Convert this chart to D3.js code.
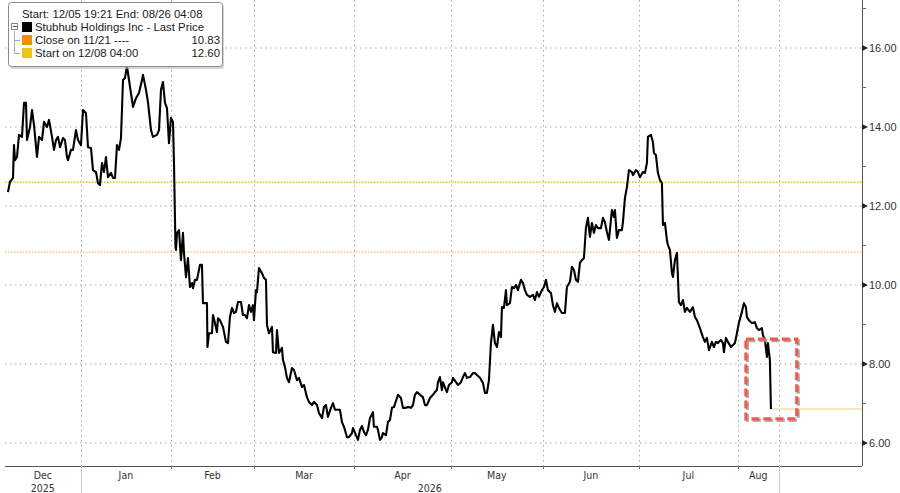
<!DOCTYPE html>
<html><head><meta charset="utf-8">
<script src="https://cdn.jsdelivr.net/npm/d3@7"></script>
<style>
html,body{margin:0;padding:0;background:#fff;}
svg{display:block;}
</style></head>
<body>
<svg id="c" width="900" height="493"></svg>
<script>
// ---- data (x = trading-day offset from chart start, y = price USD) ----
const tradingDay = [0,0.44,1.11,1.33,1.56,2.0,2.44,3.11,3.56,4.0,4.22,4.89,5.33,5.78,6.44,6.89,7.56,8.0,8.67,9.11,9.78,10.22,10.67,11.11,11.56,12.22,12.67,13.11,13.33,14.0,14.44,15.11,15.56,16.22,16.67,17.33,17.78,18.44,18.89,19.56,20.0,20.44,20.89,21.33,21.78,22.22,22.89,23.33,23.78,24.22,24.67,25.11,25.56,26.0,26.44,26.89,27.78,28.44,29.11,29.78,30.0,30.67,31.11,31.78,32.22,33.11,33.56,34.0,34.44,34.89,35.33,35.78,36.22,36.67,36.89,37.22,
37.33,37.56,38.0,38.44,38.89,39.11,39.56,40.0,40.44,40.89,41.11,41.56,42.0,42.67,43.11,43.33,44.22,44.33,44.67,45.33,45.56,46.0,46.44,46.67,47.11,47.56,47.78,48.44,48.89,49.33,49.78,50.22,50.67,51.11,51.78,52.22,52.67,53.11,53.56,54.0,54.44,54.67,55.11,55.33,55.78,56.44,56.89,57.33,57.56,58.0,58.67,58.89,59.56,59.78,60.22,60.89,
61.11,61.56,62.0,62.44,63.11,63.56,64.22,64.67,65.33,65.78,66.44,66.89,67.56,68.0,68.67,69.11,69.78,70.22,70.67,71.11,71.78,72.22,72.67,73.11,73.78,74.22,74.67,75.33,75.78,76.44,76.67,77.33,77.78,78.22,78.67,79.11,79.56,80.0,80.44,81.11,81.33,82.0,82.22,82.67,83.11,83.33,84.0,84.44,84.89,85.33,85.78,86.44,86.67,87.33,87.78,88.44,88.89,89.56,90.0,90.44,90.89,91.56,92.22,92.67,93.11,93.78,94.44,94.89,95.33,95.56,96.0,96.44,96.67,97.33,97.56,98.0,98.67,98.89,99.56,100.0,100.67,101.11,101.56,102.0,102.67,103.33,103.78,104.22,104.89,
105.56,106.0,106.44,106.89,107.33,107.78,108.22,108.67,109.11,109.56,109.78,110.22,110.67,110.89,111.56,112.0,112.44,112.89,113.33,114.0,114.44,114.89,115.33,116.0,116.67,117.11,117.56,118.0,118.67,119.11,119.56,120.0,120.67,121.11,121.56,122.0,122.44,123.11,123.78,124.22,124.89,125.33,125.78,126.22,126.67,127.11,127.56,128.0,128.44,128.89,129.33,129.78,130.22,130.67,131.11,131.78,132.22,132.67,133.11,133.56,134.22,134.67,134.89,135.33,135.78,136.44,136.67,137.11,137.56,
138.0,138.67,138.89,139.56,140.0,140.44,141.11,141.56,142.0,142.22,142.89,143.33,143.56,144.0,144.44,144.89,145.33,145.56,146.0,146.44,146.67,147.11,147.56,147.78,148.22,148.67,149.11,149.56,150.0,150.44,150.89,151.56,152.22,152.67,153.11,153.78,154.44,154.89,155.33,155.78,156.44,156.89,157.33,157.78,158.44,158.89,159.11,159.56,160.0,160.67,161.11,161.56,162.0,162.44,163.11,163.56,164.0,164.22,164.67,165.33,165.56,166.0,166.44,166.89,167.56,167.78,168.22,168.67,168.89,169.33,169.56];
const lastPrice = [12.35,12.61,12.71,13.54,13.16,13.24,13.80,13.75,14.61,14.61,13.67,14.00,14.43,14.05,13.24,13.75,13.67,14.13,14.00,14.18,13.75,13.42,13.67,13.75,13.49,13.72,13.67,13.24,13.16,13.42,13.42,13.92,13.67,13.54,14.43,14.35,13.49,13.47,12.91,12.86,12.58,12.53,13.09,12.86,13.24,12.73,12.84,12.71,12.71,13.54,13.42,13.72,15.19,15.24,15.55,15.19,14.51,14.73,14.86,15.19,15.32,14.94,14.63,13.92,13.75,13.80,13.92,14.94,15.14,14.61,14.48,13.59,14.23,14.13,13.09,10.96,
10.89,11.32,11.39,10.63,11.32,10.81,10.20,10.68,9.95,10.05,9.92,10.13,10.13,10.51,10.51,9.54,9.54,8.43,8.78,8.78,9.24,9.04,8.81,9.16,9.11,8.99,8.94,8.56,8.53,9.19,9.42,9.29,9.32,9.57,9.57,9.24,9.24,9.16,9.49,9.32,9.49,9.11,9.87,9.82,10.43,10.30,10.18,10.13,8.99,8.78,8.94,8.30,8.28,8.86,8.28,8.41,
8.10,7.92,7.65,7.54,7.90,7.85,7.59,7.65,7.42,7.47,7.16,7.04,6.96,7.04,6.96,6.76,6.63,6.91,6.96,6.66,6.89,7.01,6.84,6.84,6.84,6.53,6.41,6.15,6.15,6.25,6.38,6.20,6.08,6.33,6.43,6.28,6.20,6.33,6.63,6.78,6.41,6.41,6.33,6.08,6.15,6.25,6.20,6.53,6.58,6.89,6.91,7.14,7.22,7.14,6.89,6.89,6.91,6.89,6.96,7.22,7.29,7.22,7.16,6.96,6.96,7.14,7.22,7.29,7.34,7.54,7.67,7.34,7.54,7.34,7.29,7.47,7.54,7.65,7.54,7.47,7.54,7.67,7.77,7.65,7.67,7.77,7.77,7.72,7.65,
7.52,7.27,7.27,7.59,8.53,8.99,8.53,8.43,8.81,8.68,9.44,9.42,9.87,9.49,9.54,9.95,9.92,10.00,9.87,10.13,10.05,9.87,9.75,9.70,9.75,9.62,9.82,9.70,9.87,9.95,10.13,9.87,9.80,9.49,9.32,9.54,9.42,9.29,9.29,9.95,10.08,10.46,10.38,10.13,10.08,10.56,10.63,10.68,11.44,11.70,11.22,11.57,11.32,11.52,11.44,11.44,11.70,11.59,11.34,11.14,11.90,11.72,11.90,11.19,11.39,11.39,11.59,12.20,12.48,
12.91,12.86,12.78,12.91,12.86,12.73,12.86,12.84,13.09,13.75,13.80,13.62,13.34,13.29,12.84,12.66,12.58,11.52,11.57,11.14,11.01,10.89,10.30,10.20,10.63,10.81,9.57,9.49,9.62,9.32,9.42,9.32,9.44,9.19,9.11,8.91,8.68,8.56,8.66,8.35,8.56,8.43,8.56,8.53,8.61,8.53,8.30,8.66,8.56,8.43,8.48,8.53,8.78,9.04,9.32,9.54,9.44,9.19,9.11,9.04,9.04,9.06,8.91,8.86,8.91,8.73,8.61,8.18,8.53,8.10,6.86];

const monthBounds = [-0.7, 16.2, 36.2, 54.7, 76.9, 98.4, 118.9, 140.2, 162.2, 171.3];
const monthLabels = ["Dec","Jan","Feb","Mar","Apr","May","Jun","Jul","Aug"];
const yearLabels = [{label:"2025", from:-0.7, to:16.2},{label:"2026", from:16.2, to:171.3}];
const yearBreaks = [16.2, 171.3];
const yTicks = [6,8,10,12,14,16];
const yMinorTicks = [7,9,11,13,15,17];
const closeValue = 10.83;
const startValue = 12.60;
const highlightBox = {t0:164.0, t1:175.3, p0:6.61, p1:8.63};
const legendItems = [
  {label:"Stubhub Holdings Inc - Last Price", value:"", color:"#000000"},
  {label:"Close on 11/21 ----", value:"10.83", color:"#f39200"},
  {label:"Start on 12/08 04:00", value:"12.60", color:"#e8c51c"}
];
const legendTitle = "Start: 12/05 19:21 End: 08/26 04:08";

// ---- drawing ----
const svg = d3.select("#c");
const x = d3.scaleLinear().domain([0, 189.8]).range([8, 862]);
const y = d3.scaleLinear().domain([6, 16]).range([443, 48]);
const axisY = 466, axisX = 862, leftX = 5;
const font = "'Liberation Sans', Arial, sans-serif";
const condFont = "'DejaVu Sans Condensed', 'Liberation Sans Narrow', 'Liberation Sans', sans-serif";

const grid = svg.append("g");
grid.selectAll("line.h").data(yTicks).join("line")
  .attr("x1", leftX).attr("x2", axisX)
  .attr("y1", d => y(d)).attr("y2", d => y(d))
  .attr("stroke", "#a8a8a8").attr("stroke-width", 1).attr("stroke-dasharray", "1.5,3.5");
grid.selectAll("line.v").data(monthBounds.slice(1)).join("line")
  .attr("x1", d => Math.round(x(d)) + 0.5).attr("x2", d => Math.round(x(d)) + 0.5)
  .attr("y1", 0).attr("y2", axisY)
  .attr("stroke", "#a8a8a8").attr("stroke-width", 1).attr("stroke-dasharray", "1.5,3.5");

// reference lines
svg.append("line").attr("x1", leftX).attr("x2", axisX)
  .attr("y1", y(startValue)).attr("y2", y(startValue))
  .attr("stroke", "#e6c410").attr("stroke-width", 1.5).attr("stroke-dasharray", "1.5,1.5");
svg.append("line").attr("x1", leftX).attr("x2", axisX)
  .attr("y1", y(closeValue)).attr("y2", y(closeValue))
  .attr("stroke", "#f2bf72").attr("stroke-width", 1.3).attr("stroke-dasharray", "1.5,1.5");

// last price extension
const lastT = tradingDay[tradingDay.length - 1];
const lastP = lastPrice[lastPrice.length - 1];
svg.append("line").attr("x1", x(lastT)).attr("x2", axisX)
  .attr("y1", y(lastP)).attr("y2", y(lastP))
  .attr("stroke", "#efe0a0").attr("stroke-width", 1.5);

// price line
const pts = tradingDay.map((t, i) => [t, lastPrice[i]]);
svg.append("path").datum(pts)
  .attr("fill", "none").attr("stroke", "#000").attr("stroke-width", 2.1)
  .attr("stroke-linejoin", "round")
  .attr("d", d3.line().x(d => x(d[0])).y(d => y(d[1])));

// highlight box (shadow + red dashed)
const bx = x(highlightBox.t0), bx2 = x(highlightBox.t1);
const by = y(highlightBox.p1), by2 = y(highlightBox.p0);
svg.append("rect").attr("x", bx + 1.5).attr("y", by + 1.5).attr("width", bx2 - bx).attr("height", by2 - by)
  .attr("fill", "none").attr("stroke", "#9a9a9a").attr("stroke-width", 3.2).attr("stroke-dasharray", "8,4").attr("opacity", 0.8);
svg.append("rect").attr("x", bx).attr("y", by).attr("width", bx2 - bx).attr("height", by2 - by)
  .attr("fill", "none").attr("stroke", "#ee5a50").attr("stroke-width", 3.2).attr("stroke-dasharray", "8,4");

// right axis
const ra = svg.append("g");
ra.append("line").attr("x1", axisX + 0.5).attr("x2", axisX + 0.5).attr("y1", 0).attr("y2", axisY)
  .attr("stroke", "#555").attr("stroke-width", 1);
ra.selectAll("path.tri").data(yTicks).join("path")
  .attr("d", d => `M${axisX},${y(d) - 3}L${axisX + 6},${y(d)}L${axisX},${y(d) + 3}Z`)
  .attr("fill", "#222");
ra.selectAll("line.minor").data(yMinorTicks).join("line")
  .attr("x1", axisX).attr("x2", axisX + 4).attr("y1", d => y(d)).attr("y2", d => y(d))
  .attr("stroke", "#666").attr("stroke-width", 1);
ra.selectAll("text").data(yTicks).join("text")
  .attr("x", axisX + 7).attr("y", d => y(d) + 4)
  .attr("font-family", font).attr("font-size", 11).attr("fill", "#333")
  .text(d => d3.format(".2f")(d));

// bottom axis
const ba = svg.append("g");
ba.append("line").attr("x1", leftX).attr("x2", axisX).attr("y1", axisY + 0.5).attr("y2", axisY + 0.5)
  .attr("stroke", "#555").attr("stroke-width", 1);
ba.selectAll("line.t").data(monthBounds.slice(1)).join("line")
  .attr("x1", d => Math.round(x(d)) + 0.5).attr("x2", d => Math.round(x(d)) + 0.5)
  .attr("y1", axisY).attr("y2", d => yearBreaks.includes(d) ? 493 : axisY + 3)
  .attr("stroke", d => yearBreaks.includes(d) ? "#ccc" : "#777").attr("stroke-width", 1);
ba.selectAll("text.m").data(monthLabels).join("text")
  .attr("x", (d, i) => (x(monthBounds[i]) + x(monthBounds[i + 1])) / 2)
  .attr("y", 479).attr("text-anchor", "middle")
  .attr("font-family", condFont).attr("font-size", 10.5).attr("fill", "#333")
  .text(d => d);
ba.selectAll("text.yr").data(yearLabels).join("text")
  .attr("x", d => (x(d.from) + x(d.to)) / 2)
  .attr("y", 492).attr("text-anchor", "middle")
  .attr("font-family", condFont).attr("font-size", 10.5).attr("fill", "#333")
  .text(d => d.label);

// legend
const lg = svg.append("g");
lg.append("rect").attr("x", 10).attr("y", 4).attr("width", 214).attr("height", 65).attr("rx", 3)
  .attr("fill", "#bbb").attr("opacity", 0.6);
lg.append("rect").attr("x", 8.5).attr("y", 2.5).attr("width", 214).attr("height", 64).attr("rx", 3)
  .attr("fill", "#fff").attr("stroke", "#8a8a8a");
lg.append("text").attr("x", 22).attr("y", 18).attr("font-family", font).attr("font-size", 11.4)
  .attr("fill", "#1a1a1a").text(legendTitle);
lg.append("path").attr("d", "M14.5,31 V53.5 M14.5,40.5 H20 M14.5,53.5 H20")
  .attr("stroke", "#aaa").attr("fill", "none").attr("stroke-width", 1);
lg.append("rect").attr("x", 11.5).attr("y", 23.5).attr("width", 6).attr("height", 6)
  .attr("fill", "#fff").attr("stroke", "#888");
lg.append("line").attr("x1", 13).attr("x2", 17).attr("y1", 26.5).attr("y2", 26.5).attr("stroke", "#555");
const rows = lg.selectAll("g.row").data(legendItems).join("g")
  .attr("transform", (d, i) => `translate(0,${i * 13})`);
rows.append("rect").attr("x", 22).attr("y", 22).attr("width", 10).attr("height", 10).attr("fill", d => d.color);
rows.append("text").attr("x", 35).attr("y", 31).attr("font-family", font).attr("font-size", 11.4)
  .attr("fill", "#1a1a1a").text(d => d.label);
rows.append("text").attr("x", 220).attr("y", 31).attr("text-anchor", "end").attr("font-family", font).attr("font-size", 11.4)
  .attr("fill", "#1a1a1a").text(d => d.value);
</script>
</body></html>
